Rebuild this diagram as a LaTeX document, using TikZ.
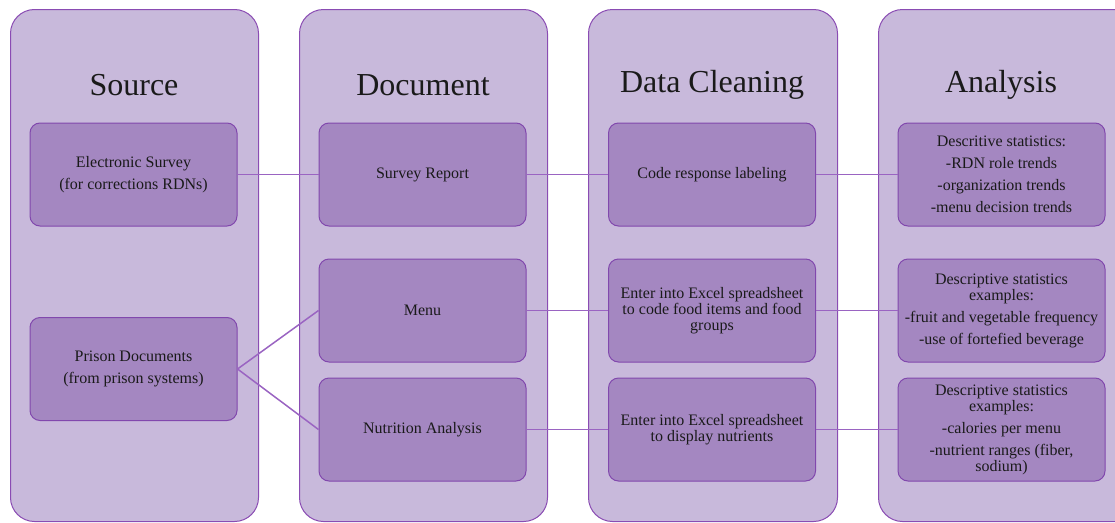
\documentclass[tikz,border=0pt]{standalone}
\usepackage{fontspec}
\setmainfont{Liberation Serif}
\usetikzlibrary{positioning}
\definecolor{colfill}{HTML}{C8B9DB}
\definecolor{colline}{HTML}{8A4CB3}
\definecolor{boxfill}{HTML}{A487C1}
\definecolor{boxline}{HTML}{8148AD}
\definecolor{linkline}{HTML}{9A64C2}
\definecolor{ink}{HTML}{1A1A1A}
\tikzset{
  column/.style={draw=colline, fill=colfill, line width=1pt, rounded corners=24pt, minimum width=248pt, minimum height=512pt, anchor=north west, inner sep=0pt},
  stage/.style={font=\fontsize{32}{36}\selectfont, text=ink},
  item/.style={draw=boxline, fill=boxfill, line width=1pt, rounded corners=10pt, minimum width=207pt, minimum height=103pt, align=center, text=ink, font=\fontsize{16}{16}\selectfont, inner sep=1pt},
  link/.style={draw=linkline, line width=1.5pt},
}
\begin{document}
\begin{tikzpicture}[x=1pt,y=-1pt]
\useasboundingbox (0,0) rectangle (1115,522);

%% columns
\node (colsrc) [column] at (10,9) {};
\node (coldoc) [column] at (299,9) {};
\node (colclean) [column, minimum width=249pt] at (588,9) {};
\node (colana) [column, minimum width=262pt] at (878,9) {};

\node (hsrc) [stage] at (134,85) {Source};
\node (hdoc) [stage] at (423,85) {Document};
\node (hclean) [stage] at (712,85) {Data Cleaning};
\node (hana) [stage] at (1001,85) {Analysis};

%% source
\node (esurvey) [item] at (133.5,174.5) {Electronic Survey\\[6pt](for corrections RDNs)};
\node (prison) [item] at (133.5,369) {Prison Documents\\[6pt](from prison systems)};

%% document
\node (report) [item] at (422.5,174.5) {Survey Report};
\node (menu) [item] at (422.5,310.5) {Menu};
\node (nutri) [item] at (422.5,429.5) {Nutrition Analysis};

%% data cleaning
\node (coding) [item] at (712,174.5) {Code response labeling};
\node (excelfood) [item] at (712,310.5) {Enter into Excel spreadsheet\\to code food items and food\\groups};
\node (excelnutri) [item] at (712,429.5) {Enter into Excel spreadsheet\\to display nutrients};

%% analysis
\node (statsurvey) [item] at (1001.5,174.5) {Descritive statistics:\\[6pt]-RDN role trends\\[6pt]-organization trends\\[6pt]-menu decision trends};
\node (statmenu) [item] at (1001.5,310.5) {Descriptive statistics\\examples:\\[6pt]-fruit and vegetable frequency\\[6pt]-use of fortefied beverage};
\node (statnutri) [item] at (1001.5,429.5) {Descriptive statistics\\examples:\\[6pt]-calories per menu\\[6pt]-nutrient ranges (fiber,\\sodium)};

%% links
\draw [link] (esurvey) -- (report);
\draw [link] (report) -- (coding);
\draw [link] (coding) -- (statsurvey);
\draw [link] (prison.east) -- (menu.west);
\draw [link] (prison.east) -- (nutri.west);
\draw [link] (menu) -- (excelfood);
\draw [link] (excelfood) -- (statmenu);
\draw [link] (nutri) -- (excelnutri);
\draw [link] (excelnutri) -- (statnutri);

\end{tikzpicture}
\end{document}
